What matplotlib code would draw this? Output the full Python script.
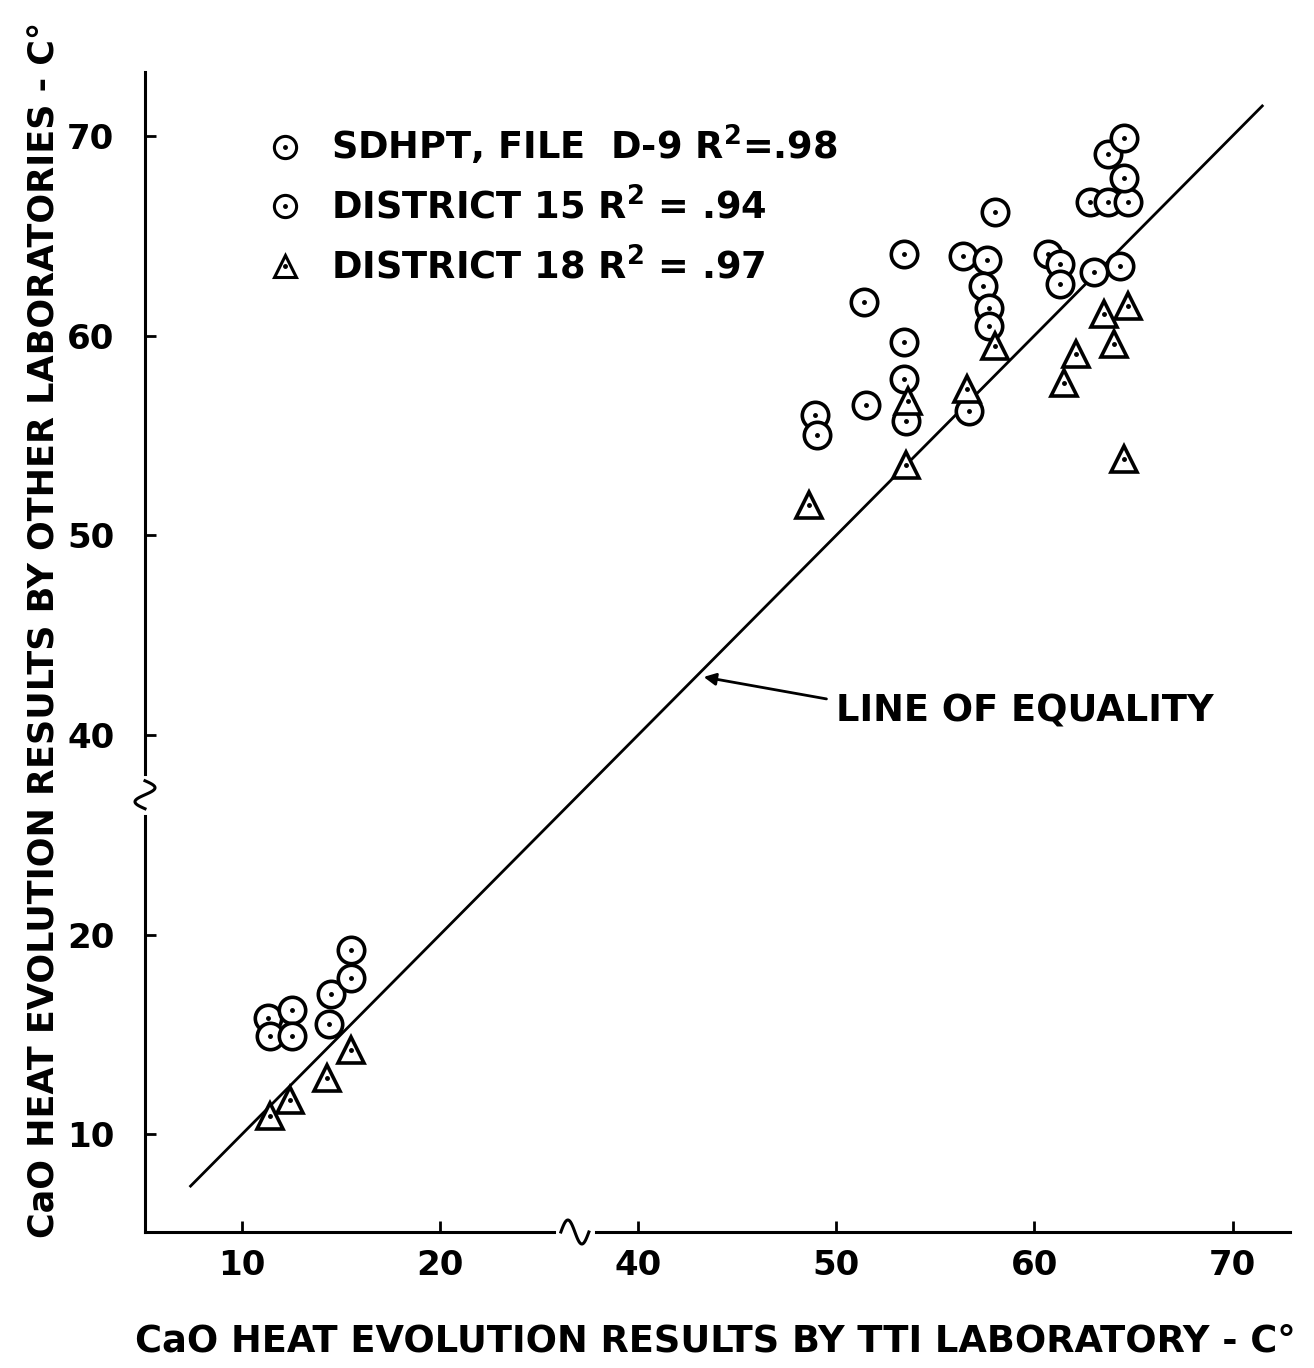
import numpy as np
import matplotlib
matplotlib.use("Agg")
import matplotlib.pyplot as plt
from matplotlib.legend_handler import HandlerTuple
from matplotlib.lines import Line2D

plt.rcParams['font.family'] = ['DejaVu Sans']
plt.rcParams['font.weight'] = 'bold'
plt.rcParams['axes.labelweight'] = 'bold'
plt.rcParams['mathtext.default'] = 'bf'

# data (TTI lab vs other labs, deg C)
sdhpt_x = [11.3, 11.4, 12.5, 12.5, 14.5, 14.4, 15.5, 15.5,
           48.9, 49.0, 51.4, 51.5, 53.4, 53.4, 53.4, 53.5]
sdhpt_y = [15.8, 14.9, 16.2, 14.9, 17.0, 15.5, 17.8, 19.2,
           56.0, 55.0, 61.7, 56.5, 64.1, 59.7, 57.8, 55.7]

dist15_x = [56.4, 57.6, 57.4, 57.7, 57.7, 58.0, 56.7, 60.7, 61.3, 61.3,
            63.0, 64.3, 62.8, 63.7, 64.7, 64.5, 63.7, 64.5]
dist15_y = [64.0, 63.8, 62.5, 61.4, 60.5, 66.2, 56.2, 64.1, 63.6, 62.6,
            63.2, 63.5, 66.7, 66.7, 66.7, 67.9, 69.1, 69.9]

dist18_x = [11.4, 12.4, 14.3, 15.5, 48.6, 53.6, 53.5, 56.6, 58.0,
            61.5, 62.1, 63.5, 64.0, 64.7, 64.5]
dist18_y = [10.9, 11.7, 12.8, 14.2, 51.5, 56.7, 53.5, 57.3, 59.5,
            57.6, 59.1, 61.1, 59.6, 61.5, 53.8]

equality = [7.4, 71.5]
ticks = [10, 20, 40, 50, 60, 70]
labels = ['SDHPT, FILE  D-9 R$^2$=.98', 'DISTRICT 15 R$^2$ = .94',
          'DISTRICT 18 R$^2$ = .97']


# broken axis: 20..40 squeezed into half the space
def fwd(v):
    return np.interp(v, [-100, 20, 40, 200], [-100, 20, 30, 190])


def inv(v):
    return np.interp(v, [-100, 20, 30, 190], [-100, 20, 40, 200])


W, H, DPI = 1314, 1368, 100
fig = plt.figure(figsize=(W / DPI, H / DPI), dpi=DPI)
L, R, B, T = 145, 1290, 1232, 72
ax = fig.add_axes([L / W, 1 - B / H, (R - L) / W, (B - T) / H])
ax.set_xscale('function', functions=(fwd, inv))
ax.set_yscale('function', functions=(fwd, inv))
ax.set_xlim(5.1, 72.9)
ax.set_ylim(5.1, 73.2)

for s in ['top', 'right']:
    ax.spines[s].set_visible(False)
for s in ['left', 'bottom']:
    ax.spines[s].set_linewidth(2.2)

ax.set_xticks(ticks)
ax.set_yticks(ticks)
ax.set_xticklabels([str(t) for t in ticks], fontsize=24.5)
ax.set_yticklabels([str(t) for t in ticks], fontsize=24.5)
ax.tick_params(axis='both', direction='in', length=8, width=2)
ax.tick_params(axis='x', pad=12)
ax.tick_params(axis='y', pad=22)
ax.minorticks_off()

ax.plot(equality, equality, color='black', lw=2.0, zorder=2)

mew = 2.6
circ = dict(marker='o', ms=19, mfc='white', mec='black', mew=mew, ls='none', zorder=3)
tri = dict(marker='^', ms=19, mfc='white', mec='black', mew=mew, ls='none', zorder=3)
dot = dict(marker='o', ms=2.5, color='black', ls='none', zorder=4)

ax.plot(sdhpt_x, sdhpt_y, **circ)
ax.plot(sdhpt_x, sdhpt_y, **dot)
ax.plot(dist15_x, dist15_y, **circ)
ax.plot(dist15_x, dist15_y, **dot)
ax.plot(dist18_x, dist18_y, **tri)
ax.plot(dist18_x, dist18_y, **dot)

dl = Line2D([], [], **dot)
lc = Line2D([], [], **dict(circ, ms=16, mew=2.2))
lt = Line2D([], [], **dict(tri, ms=16, mew=2.2))
ax.legend([(lc, dl), (lc, dl), (lt, dl)], labels,
          handler_map={tuple: HandlerTuple(ndivide=1)},
          loc='upper left', bbox_to_anchor=(0.077, 0.984), frameon=False,
          fontsize=26.5, handlelength=1.0, handletextpad=0.75, labelspacing=0.555)

ax.text(50.0, 41.2, 'LINE OF EQUALITY', fontsize=26.5, va='center', ha='left')
ax.annotate('', xy=(43.3, 42.9), xytext=(49.5, 41.8),
            arrowprops=dict(arrowstyle='-|>', color='black', lw=2,
                            mutation_scale=18, shrinkA=0, shrinkB=0))

ax.set_xlabel('CaO HEAT EVOLUTION RESULTS BY TTI LABORATORY - C°',
              fontsize=26.5, labelpad=30)
ax.xaxis.set_label_coords(0.498, -0.078)
ax.set_ylabel('CaO HEAT EVOLUTION RESULTS BY OTHER LABORATORIES - C°',
              fontsize=25.2)
ax.yaxis.set_label_coords(-0.0725, 0.519)

# break marks on both axes
axw, axh = R - L, B - T
x0, x1 = ax.get_xlim()
y0, y1 = ax.get_ylim()
xb = (fwd(33.6) - fwd(x0)) / (fwd(x1) - fwd(x0))
yb = (fwd(34.0) - fwd(y0)) / (fwd(y1) - fwd(y0))
t = np.linspace(0, 1, 60)
ax.plot([xb - 16 / axw, xb + 16 / axw], [0, 0], color='white', lw=5,
        transform=ax.transAxes, clip_on=False, zorder=5)
ax.plot(xb - 14 / axw + t * 28 / axw, 12 / axh * np.sin(2 * np.pi * t),
        color='black', lw=2.2, transform=ax.transAxes, clip_on=False, zorder=6)
ax.plot([0, 0], [yb - 16 / axh, yb + 16 / axh], color='white', lw=5,
        transform=ax.transAxes, clip_on=False, zorder=5)
ax.plot(10 / axw * np.sin(2 * np.pi * t), yb + 14 / axh - t * 28 / axh,
        color='black', lw=2.2, transform=ax.transAxes, clip_on=False, zorder=6)

fig.savefig('out.png', dpi=DPI)
